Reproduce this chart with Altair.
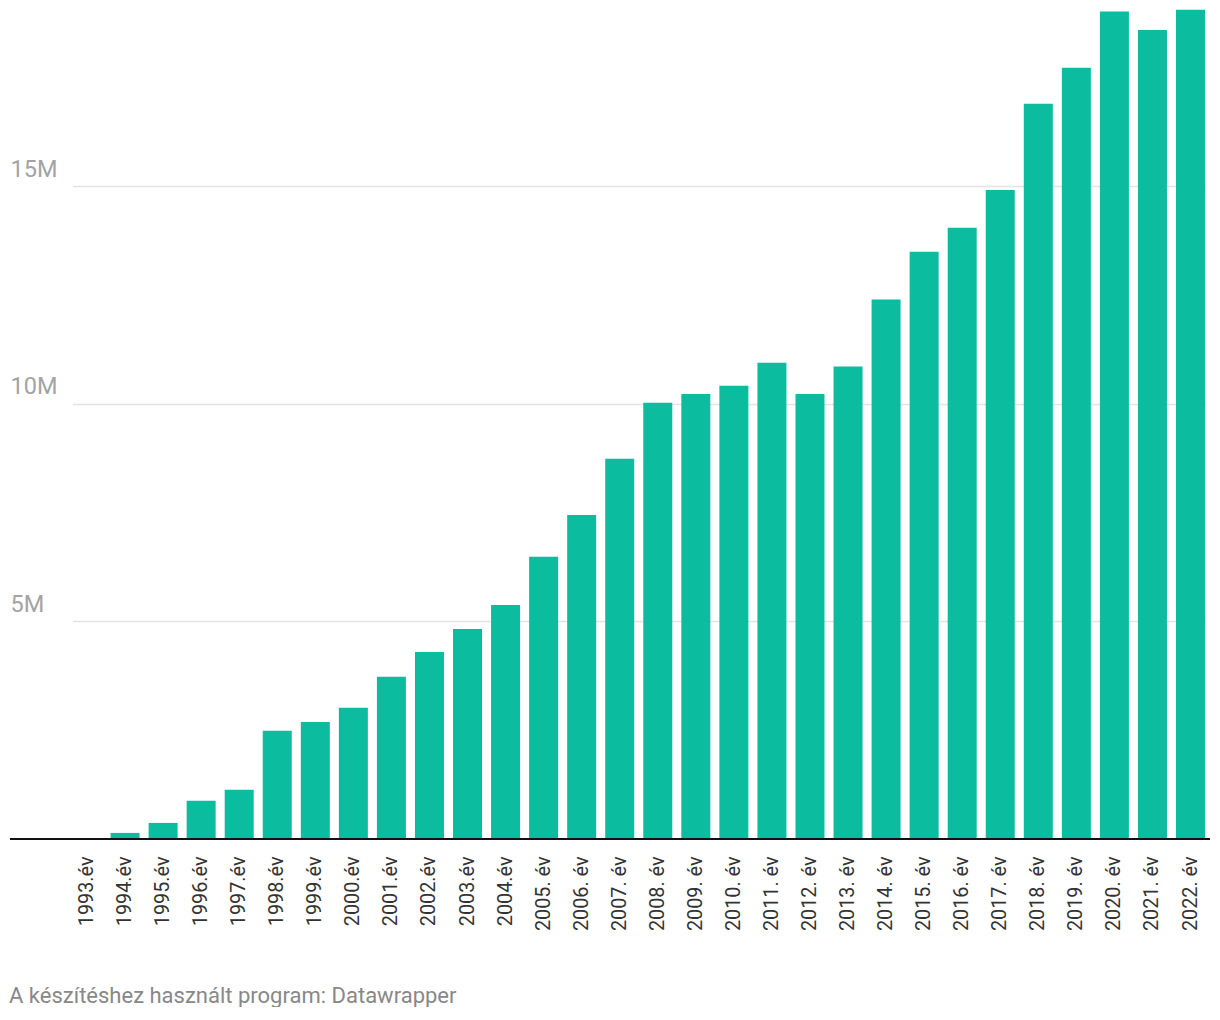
import altair as alt
import pandas as pd

years = [
    "1993.év", "1994.év", "1995.év", "1996.év", "1997.év", "1998.év", "1999.év",
    "2000.év", "2001.év", "2002.év", "2003.év", "2004.év", "2005. év", "2006. év",
    "2007. év", "2008. év", "2009. év", "2010. év", "2011. év", "2012. év",
    "2013. év", "2014. év", "2015. év", "2016. év", "2017. év", "2018. év",
    "2019. év", "2020. év", "2021. év", "2022. év",
]
values_m = [
    0.0, 0.14, 0.37, 0.88, 1.13, 2.49, 2.69, 3.02, 3.73, 4.30,
    4.83, 5.38, 6.49, 7.45, 8.74, 10.03, 10.23, 10.42, 10.95, 10.23,
    10.86, 12.40, 13.50, 14.05, 14.92, 16.90, 17.73, 19.02, 18.60, 19.06,
]
y_ticks = [5_000_000, 10_000_000, 15_000_000]
footer = "A készítéshez használt program: Datawrapper"

df = pd.DataFrame({"ev": years, "ertek": [v * 1_000_000 for v in values_m]})

y_enc = alt.Y(
    "ertek:Q",
    title=None,
    scale=alt.Scale(domain=[0, 19_103_000], nice=False, zero=True),
    axis=alt.Axis(
        values=y_ticks,
        labelExpr="datum.value / 1000000 + 'M'",
        labelAlign="left",
        labelBaseline="alphabetic",
        labelOffset=-10,
        labelPadding=0,
        ticks=False,
        tickSize=0,
        domain=False,
        labelFontSize=23.5,
        labelFont="Roboto",
        labelColor="#a3a3a3",
        gridColor="#e3e3e3",
        gridWidth=1.6,
    ),
)

bars = alt.Chart(df).mark_bar(color="#0bbc9e").encode(
    x=alt.X(
        "ev:N",
        sort=years,
        title=None,
        scale=alt.Scale(range=[62.5, 1195], paddingInner=0.238, paddingOuter=0),
        axis=alt.Axis(
            labelAngle=-90,
            labelFontSize=19.8,
            labelFont="Roboto",
            labelColor="#333333",
            labelPadding=17,
            ticks=False,
            tickSize=0,
            domain=False,
            labelOverlap=False,
        ),
    ),
    y=y_enc,
)

baseline = alt.Chart(df).mark_rule(color="#111111", strokeWidth=2).encode(
    x=alt.value(0),
    x2=alt.value(1200),
    y=alt.datum(0),
)

chart = (
    alt.layer(bars, baseline)
    .properties(
        width=1200,
        height=831,
        padding={"left": 1, "top": 0, "right": 0, "bottom": 0},
        title=alt.TitleParams(
            text=footer,
            orient="bottom",
            anchor="start",
            offset=55,
            fontSize=22,
            font="Roboto",
            fontWeight="normal",
            color="#888888",
        ),
    )
    .configure_view(stroke=None)
)

chart.save("out.html", embed_options={"renderer": "svg", "actions": False})
